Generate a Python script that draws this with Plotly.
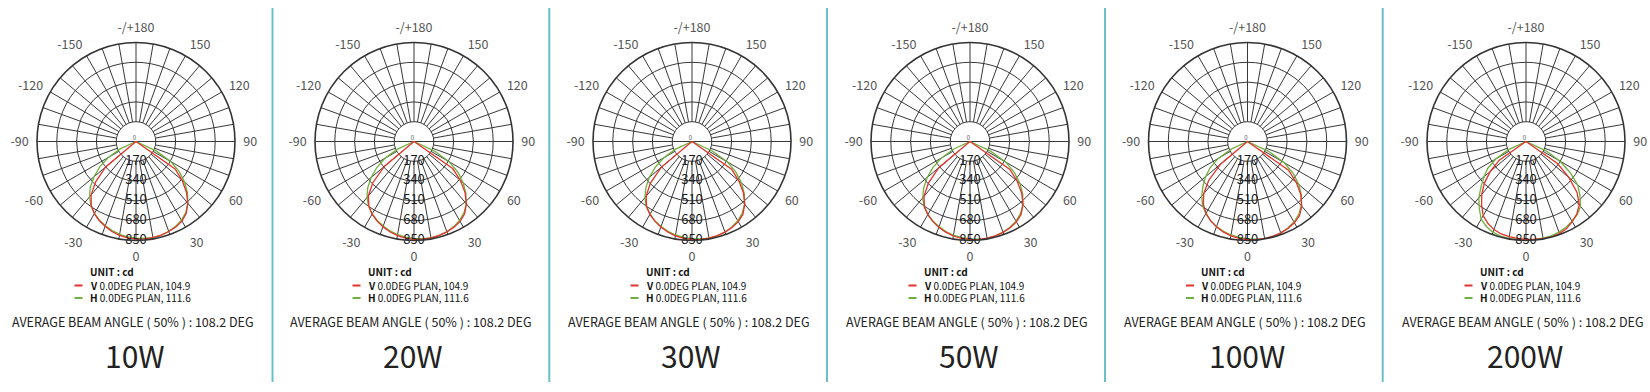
import plotly.graph_objects as go

W, H = 1650, 392

# ---------------- data ----------------
POWERS = ["10W", "20W", "30W", "50W", "100W", "200W"]

THETA = [-90, -85, -80, -75, -70, -65, -60, -55, -50, -45, -40, -35, -30, -25, -20, -15, -10, -5,
         0, 5, 10, 15, 20, 25, 30, 35, 40, 45, 50, 55, 60, 65, 70, 75, 80, 85, 90]

V_10W = [0, 0, 0, 0, 0, 0, 0, 0, 340, 490, 600, 670, 715, 748, 775, 800, 818, 830,
         838, 840, 838, 832, 822, 810, 790, 752, 692, 612, 515, 410, 0, 0, 0, 0, 0, 0, 0]
H_10W = [0, 0, 0, 0, 0, 150, 275, 380, 470, 555, 620, 675, 712, 745, 770, 792, 810, 822,
         830, 836, 838, 834, 822, 804, 780, 745, 692, 625, 545, 455, 345, 190, 0, 0, 0, 0, 0]

V_20W = [0, 0, 0, 0, 0, 0, 0, 0, 330, 500, 610, 675, 720, 752, 780, 802, 820, 832,
         840, 842, 840, 835, 826, 812, 792, 758, 700, 620, 520, 405, 0, 0, 0, 0, 0, 0, 0]
H_20W = [0, 0, 0, 0, 0, 160, 285, 390, 480, 562, 628, 680, 718, 748, 772, 795, 812, 825,
         832, 838, 840, 836, 825, 806, 782, 748, 698, 630, 550, 460, 350, 195, 0, 0, 0, 0, 0]

V_30W = [0, 0, 0, 0, 0, 0, 0, 0, 345, 505, 612, 680, 722, 755, 782, 805, 822, 834,
         842, 844, 842, 836, 828, 815, 795, 762, 705, 625, 525, 415, 0, 0, 0, 0, 0, 0, 0]
H_30W = [0, 0, 0, 0, 0, 155, 280, 385, 478, 560, 630, 684, 720, 752, 776, 798, 815, 826,
         834, 840, 842, 838, 828, 810, 786, 752, 702, 635, 555, 462, 352, 192, 0, 0, 0, 0, 0]

V_50W = [0, 0, 0, 0, 0, 0, 0, 0, 350, 505, 615, 682, 725, 757, 784, 806, 824, 835,
         843, 845, 843, 838, 830, 817, 797, 765, 708, 628, 528, 418, 0, 0, 0, 0, 0, 0, 0]
H_50W = [0, 0, 0, 0, 0, 158, 282, 388, 480, 562, 632, 686, 722, 754, 778, 800, 817, 828,
         836, 842, 844, 840, 830, 812, 790, 756, 706, 640, 560, 466, 355, 195, 0, 0, 0, 0, 0]

V_100W = [0, 0, 0, 0, 0, 0, 0, 0, 300, 470, 585, 660, 712, 750, 780, 804, 822, 834,
          842, 846, 846, 842, 835, 824, 806, 778, 725, 648, 548, 430, 0, 0, 0, 0, 0, 0, 0]
H_100W = [0, 0, 0, 0, 0, 150, 290, 390, 470, 540, 612, 672, 715, 750, 776, 798, 815, 826,
          836, 842, 846, 844, 836, 820, 798, 766, 718, 655, 575, 480, 365, 200, 0, 0, 0, 0, 0]

V_200W = [0, 0, 0, 0, 0, 0, 0, 280, 400, 505, 590, 665, 735, 775, 805, 822, 830, 836,
          840, 842, 846, 848, 842, 825, 795, 760, 712, 620, 480, 330, 0, 0, 0, 0, 0, 0, 0]
H_200W = [0, 0, 0, 0, 0, 170, 300, 400, 470, 545, 630, 700, 770, 805, 830, 840, 845, 846,
          846, 845, 843, 838, 828, 812, 790, 768, 728, 655, 580, 460, 335, 190, 0, 0, 0, 0, 0]

V_SERIES = [V_10W, V_20W, V_30W, V_50W, V_100W, V_200W]
H_SERIES = [H_10W, H_20W, H_30W, H_50W, H_100W, H_200W]

RADIAL_TICKS = [170, 340, 510, 680, 850]
RADIAL_LABELS = ["170", "340", "510", "680", "850"]
ANGLE_TICKVALS = [0, 30, 60, 90, 120, 150, 180, 210, 240, 270, 300, 330]
ANGLE_TICKTEXT = ["0", "30", "60", "90", "120", "150", "-/+180", "-150", "-120", "-90", "-60", "-30"]
SPOKE_STEP = 10

UNIT_TEXT = "UNIT : cd"
V_TEXT = "<b>V</b> 0.0DEG PLAN, 104.9"
H_TEXT = "<b>H</b> 0.0DEG PLAN, 111.6"
BEAM_TEXT = "AVERAGE BEAM ANGLE ( 50% ) : 108.2 DEG"

# ---------------- layout geometry (pixels) ----------------
CX = [136, 414, 692, 970, 1247.5, 1526]
CY = 141.5
RAD = 99
SEP_X = [272.5, 549.3, 827, 1105, 1382.7]

RED = "#e3332a"
GREEN = "#6fb03e"
GRID = "#383838"
FONT = "Noto Sans CJK SC"


def px(x):
    return x / W


def py(y):
    return 1 - y / H


fig = go.Figure()

# spokes (grid) derived from the grid step
spoke_r, spoke_t = [], []
for a in range(0, 360, SPOKE_STEP):
    inner = 0 if a in (90, 270) else RADIAL_TICKS[0]
    spoke_r += [inner, RADIAL_TICKS[-1], None]
    spoke_t += [a, a, None]

annotations = []
shapes = []

for i, power in enumerate(POWERS):
    sub = "polar" if i == 0 else f"polar{i + 1}"
    fig.add_trace(go.Scatterpolar(r=spoke_r, theta=spoke_t, mode="lines",
                                  line=dict(color=GRID, width=1), subplot=sub,
                                  showlegend=False, hoverinfo="skip"))
    fig.add_trace(go.Scatterpolar(r=H_SERIES[i], theta=THETA, mode="lines",
                                  line=dict(color=GREEN, width=1.3), subplot=sub,
                                  showlegend=False, name="H"))
    fig.add_trace(go.Scatterpolar(r=V_SERIES[i], theta=THETA, mode="lines",
                                  line=dict(color=RED, width=1.3), subplot=sub,
                                  showlegend=False, name="V"))
    fig.add_trace(go.Scatterpolar(r=RADIAL_TICKS, theta=[0] * len(RADIAL_TICKS), mode="text",
                                  text=RADIAL_LABELS, textposition="middle center",
                                  textfont=dict(family=FONT, size=13, color="#1a1a1a"),
                                  subplot=sub, showlegend=False, cliponaxis=False,
                                  hoverinfo="skip"))
    fig.add_trace(go.Scatterpolar(r=[0], theta=[0], mode="text", text=["0"],
                                  textposition="top left",
                                  textfont=dict(family=FONT, size=6, color="#555"),
                                  subplot=sub, showlegend=False, cliponaxis=False,
                                  hoverinfo="skip"))

    cx = CX[i]
    fig.update_layout(**{sub: dict(
        domain=dict(x=[px(cx - RAD), px(cx + RAD)], y=[py(CY + RAD), py(CY - RAD)]),
        bgcolor="white",
        radialaxis=dict(range=[0, RADIAL_TICKS[-1]], tickvals=RADIAL_TICKS, showticklabels=False,
                        ticks="", showline=False, showgrid=True, gridcolor=GRID, gridwidth=1),
        angularaxis=dict(rotation=-90, direction="counterclockwise", thetaunit="degrees",
                         tickvals=ANGLE_TICKVALS, ticktext=ANGLE_TICKTEXT, ticks="outside",
                         ticklen=5, tickcolor="rgba(0,0,0,0)",
                         showgrid=False, showline=True, linecolor="#333", linewidth=1.6,
                         tickfont=dict(family=FONT, size=12.5, color="#555")),
    )})

    lx = cx - 48.5
    annotations += [
        dict(x=px(lx), y=py(271.5), text="<b>UNIT : cd</b>", xanchor="left", yanchor="middle",
             font=dict(family=FONT, size=10, color="#111")),
        dict(x=px(lx), y=py(285), text=V_TEXT, xanchor="left", yanchor="middle",
             font=dict(family=FONT, size=10, color="#111")),
        dict(x=px(lx), y=py(297.7), text=H_TEXT, xanchor="left", yanchor="middle",
             font=dict(family=FONT, size=10, color="#111")),
        dict(x=px(cx - 3), y=py(321.7), text=BEAM_TEXT, xanchor="center", yanchor="middle",
             font=dict(family=FONT, size=12.5, color="#222")),
        dict(x=px(cx - 1), y=py(354.5), text=power, xanchor="center", yanchor="middle",
             font=dict(family=FONT, size=30, color="#222")),
    ]
    shapes += [
        dict(type="line", xref="paper", yref="paper", x0=px(cx - 61.5), x1=px(cx - 53.5),
             y0=py(285.5), y1=py(285.5), line=dict(color=RED, width=2)),
        dict(type="line", xref="paper", yref="paper", x0=px(cx - 61.5), x1=px(cx - 53.5),
             y0=py(298), y1=py(298), line=dict(color=GREEN, width=2)),
    ]

for sx in SEP_X:
    shapes.append(dict(type="line", xref="paper", yref="paper", x0=px(sx), x1=px(sx),
                       y0=py(8), y1=py(382), line=dict(color="#6bbfca", width=2)))

for a in annotations:
    a.update(xref="paper", yref="paper", showarrow=False)

fig.update_layout(width=W, height=H, autosize=False, margin=dict(l=0, r=0, t=0, b=0),
                  paper_bgcolor="white", plot_bgcolor="white", showlegend=False,
                  annotations=annotations, shapes=shapes)

fig.write_html("out.html", config={"displayModeBar": False},
               post_script="document.body.style.margin='0px';document.body.style.overflow='hidden';")
